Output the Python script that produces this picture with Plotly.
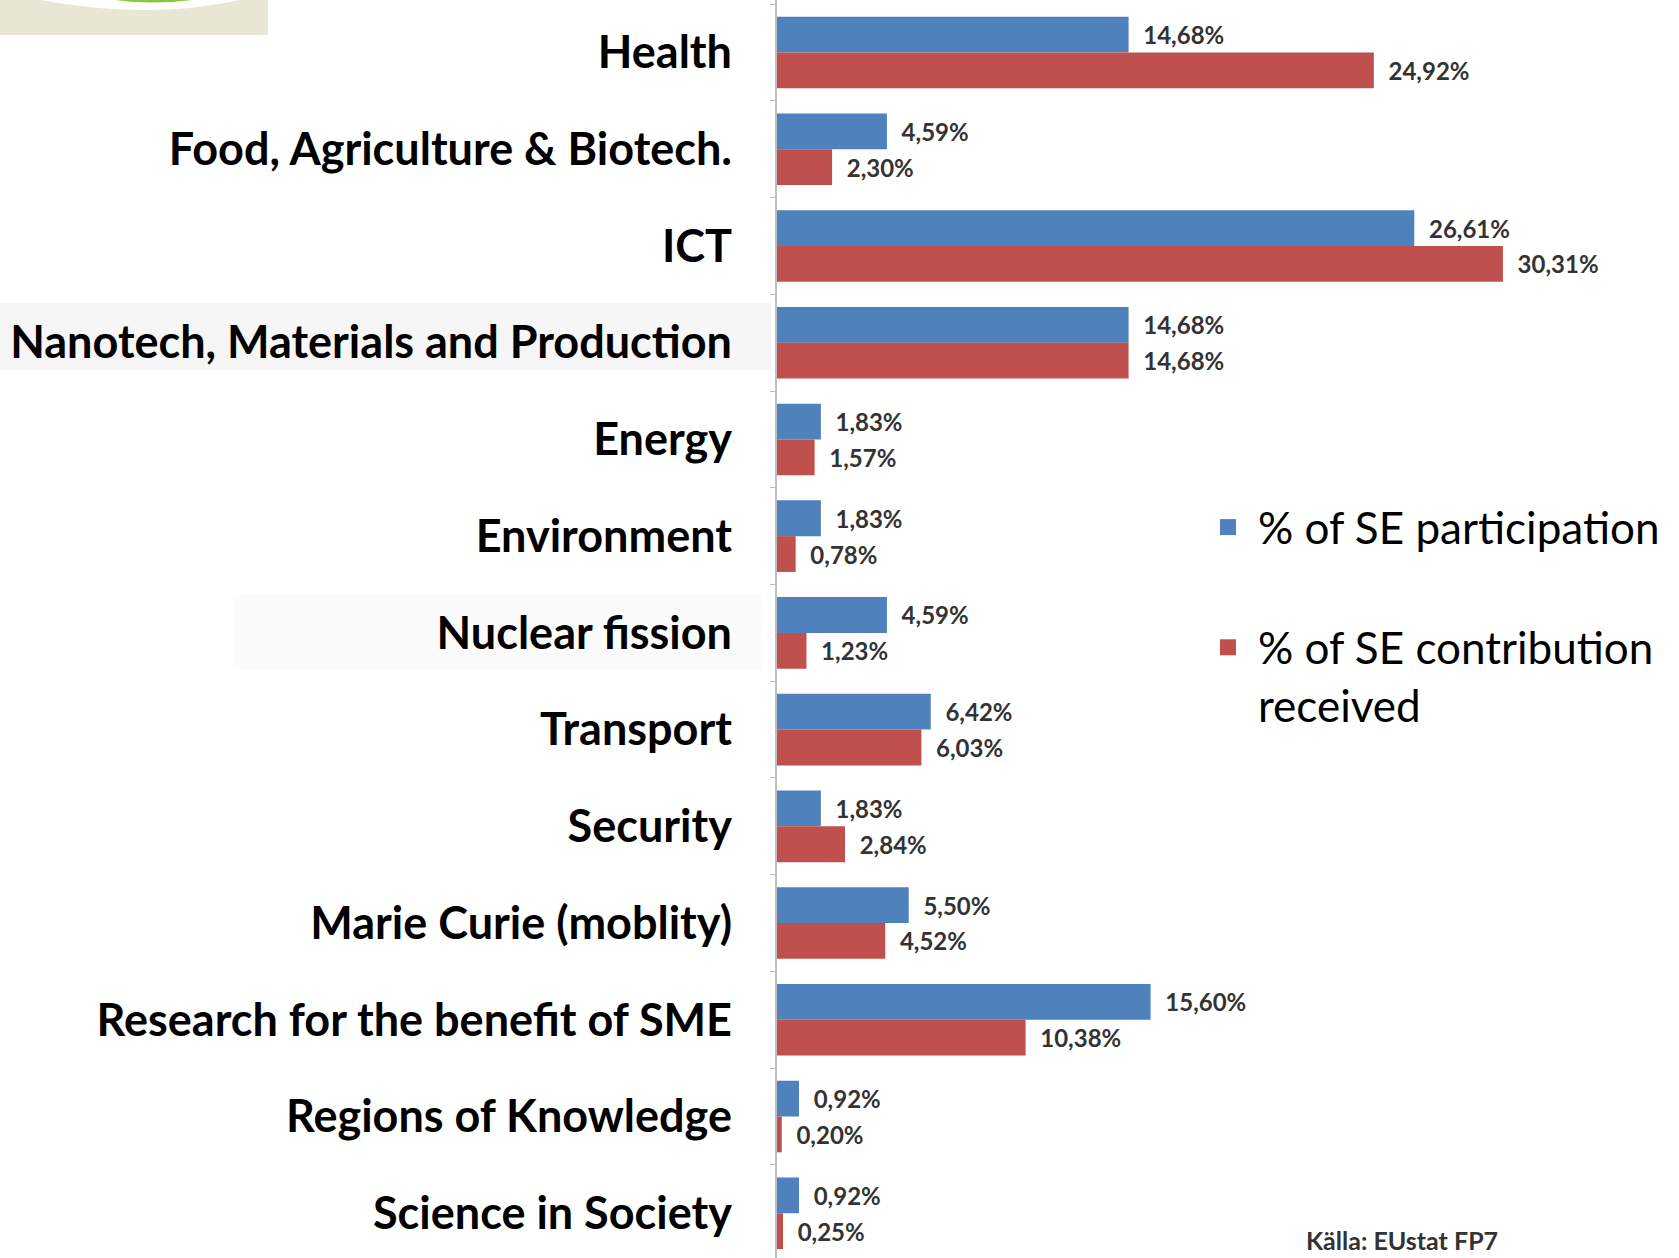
import plotly.graph_objects as go

categories = [
    "Health",
    "Food, Agriculture & Biotech.",
    "ICT",
    "Nanotech, Materials and Production",
    "Energy",
    "Environment",
    "Nuclear fission",
    "Transport",
    "Security",
    "Marie Curie (moblity)",
    "Research for the benefit of SME",
    "Regions of Knowledge",
    "Science in Society",
]
participation = [14.68, 4.59, 26.61, 14.68, 1.83, 1.83, 4.59, 6.42, 1.83, 5.50, 15.60, 0.92, 0.92]
contribution = [24.92, 2.30, 30.31, 14.68, 1.57, 0.78, 1.23, 6.03, 2.84, 4.52, 10.38, 0.20, 0.25]
series_names = ["% of SE participation", "% of SE contribution<br>received"]
source_text = "Källa: EUstat FP7"

W, H = 1679, 1258
L, R, T, B = 777, 20, 0, 0
PX_PER_UNIT = 23.95
PITCH = 96.73
FIRST_CENTER = 52.5


def xp(px):
    return (px - L) / (W - L - R)


def yp(py):
    return 1 - (py - T) / (H - T - B)


BLUE = "#4F81BD"
RED = "#C0504D"
LABEL_FONT = dict(family="Lato", size=24, color="#333333", weight="bold")

fig = go.Figure()
for vals, color in ((participation, BLUE), (contribution, RED)):
    fig.add_trace(go.Bar(
        y=categories, x=vals, orientation="h", showlegend=False,
        marker=dict(color=color, line=dict(width=0)),
        texttemplate="\u00a0\u00a0%{x:.2f}%", textposition="outside",
        textfont=LABEL_FONT, cliponaxis=False, constraintext="none",
    ))
# legend entries
for name, color, grp in ((series_names[0], BLUE, "a"), (series_names[1], RED, "b")):
    fig.add_trace(go.Scatter(
        x=[None], y=[None], mode="markers", name=name,
        marker=dict(symbol="square", size=17, color=color),
        legendgroup=grp, hoverinfo="skip",
    ))

plot_w = W - L - R
plot_h = H - T - B
y_top = -FIRST_CENTER / PITCH
y_bot = y_top + plot_h / PITCH

shapes = [
    dict(type="rect", xref="paper", yref="paper", x0=xp(0), x1=xp(268), y0=yp(35), y1=yp(0),
         fillcolor="#E9E6D3", line=dict(width=0), layer="below"),
    dict(type="path", xref="paper", yref="paper",
         path=f"M {xp(40)},{yp(0)} Q {xp(150)},{yp(20)} {xp(240)},{yp(0)} Z",
         fillcolor="white", line=dict(width=0), layer="below"),
    dict(type="path", xref="paper", yref="paper",
         path=f"M {xp(115)},{yp(0)} Q {xp(152)},{yp(5)} {xp(192)},{yp(0)} Z",
         fillcolor="#8CC63F", line=dict(width=0), layer="below"),
    dict(type="rect", xref="paper", yref="paper", x0=xp(0), x1=xp(771), y0=yp(370), y1=yp(303),
         fillcolor="#F6F6F6", line=dict(width=0), layer="below"),
    dict(type="rect", xref="paper", yref="paper", x0=xp(233), x1=xp(762), y0=yp(669), y1=yp(595),
         fillcolor="#FBFBFB", line=dict(width=0), layer="below"),
]

fig.update_layout(
    width=W, height=H,
    margin=dict(l=L, r=R, t=T, b=B),
    paper_bgcolor="white", plot_bgcolor="white",
    barmode="group", bargap=0.26, bargroupgap=0.0,
    separators=",.",
    font=dict(family="Lato", color="black"),
    xaxis=dict(range=[0, plot_w / PX_PER_UNIT], showgrid=False, zeroline=False,
               showline=False, showticklabels=False, ticks=""),
    yaxis=dict(range=[y_bot, y_top], showgrid=False, zeroline=False,
               showline=True, linecolor="#BFBFBF", linewidth=2,
               ticks="outside", tickson="boundaries", ticklen=5, tickcolor="#BFBFBF",
               tickfont=dict(family="Lato", size=45, color="black", weight="bold"),
               ticklabelstandoff=34),
    showlegend=True,
    legend=dict(x=xp(1198), y=yp(492), xanchor="left", yanchor="top",
                font=dict(family="Lato", size=44, color="black"),
                traceorder="grouped", tracegroupgap=60, valign="top",
                bgcolor="rgba(0,0,0,0)", itemwidth=50),
    shapes=shapes,
    annotations=[dict(text=source_text, xref="paper", yref="paper",
                      x=xp(1304), y=yp(1240), xanchor="left", yanchor="middle",
                      showarrow=False,
                      font=dict(family="Lato", size=25, color="#333333", weight="bold"))],
)

fig.write_html("out.html", config={"displayModeBar": False},
               post_script="document.body.style.margin='0';document.body.style.overflow='hidden';")
